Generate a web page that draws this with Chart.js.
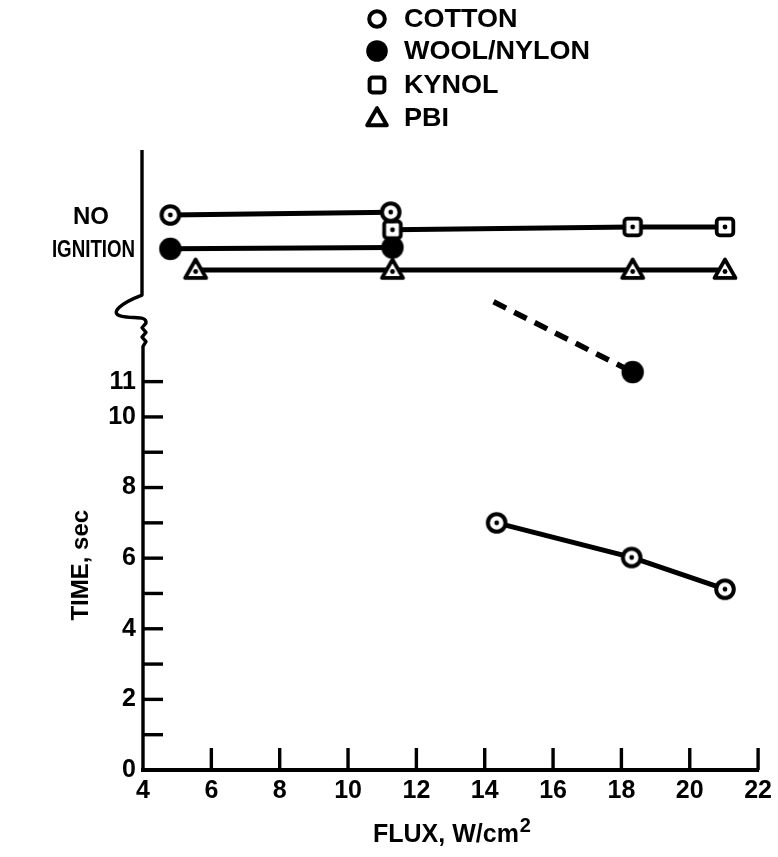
<!DOCTYPE html>
<html><head><meta charset="utf-8">
<script src="https://cdn.jsdelivr.net/npm/chart.js@4/dist/chart.umd.min.js"></script>
<style>html,body{margin:0;padding:0;background:#fff;}#wrap{position:relative;width:778px;height:857px;}</style>
</head><body><div id="wrap"><canvas id="c" width="778" height="857"></canvas></div>
<script>
// ---- data ----
const seriesNames = ['COTTON', 'WOOL/NYLON', 'KYNOL', 'PBI'];
const xTickValues = [4, 6, 8, 10, 12, 14, 16, 18, 20, 22];
const yTickValues = [0, 1, 2, 3, 4, 5, 6, 7, 8, 9, 10, 11];
const yTickLabels = ['0', '', '2', '', '4', '', '6', '', '8', '', '10', '11'];
const noIgnitionLabel = ['NO', 'IGNITION'];
const xTitle = ['FLUX, W/cm', '2'];
const yTitle = 'TIME, sec';
// "no ignition" band (plotted above the axis break)
const cottonNoIgnX = [4.8, 11.25];
const cottonNoIgnY = [15.72, 15.8];
const woolNoIgnX = [4.8, 11.3];
const woolNoIgnY = [14.76, 14.8];
const kynolNoIgnX = [11.3, 18.33, 21.03];
const kynolNoIgnY = [15.3, 15.38, 15.38];
const pbiNoIgnX = [5.54, 11.3, 18.33, 21.03];
const pbiNoIgnY = [14.16, 14.16, 14.16, 14.16];
// ignition times
const cottonIgnX = [14.35, 18.3, 21.03];
const cottonIgnY = [7.0, 6.02, 5.12];
const woolIgnX = [14.26, 18.33];   // first point = start of dashed trend
const woolIgnY = [13.26, 11.27];

// ---- styling helpers ----
const FONT = '"Liberation Sans", Arial, sans-serif';
function mk(size, draw) { const c = document.createElement('canvas'); c.width = c.height = size; const g = c.getContext('2d'); draw(g, size / 2); return c; }
function dot(g, x, y) { g.beginPath(); g.arc(x, y, 2.4, 0, 2 * Math.PI); g.fillStyle = '#000'; g.fill(); }
function openCircle(withDot, r, lw) { return mk(30, (g, m) => { g.beginPath(); g.arc(m, m, r, 0, 2 * Math.PI); g.fillStyle = '#fff'; g.fill(); g.lineWidth = lw; g.strokeStyle = '#000'; g.stroke(); if (withDot) dot(g, m, m); }); }
function filledCircle(r) { return mk(30, (g, m) => { g.beginPath(); g.arc(m, m, r, 0, 2 * Math.PI); g.fillStyle = '#000'; g.fill(); }); }
function square(withDot, h, lw) { return mk(30, (g, m) => { g.beginPath(); g.roundRect(m - h, m - h, 2 * h, 2 * h, 3); g.fillStyle = '#fff'; g.fill(); g.lineWidth = lw; g.strokeStyle = '#000'; g.stroke(); if (withDot) dot(g, m, m); }); }
function triangle(withDot, h, lw) { return mk(30, (g, m) => { g.beginPath(); g.moveTo(m, m - h); g.lineTo(m - h, m + h * 0.75); g.lineTo(m + h, m + h * 0.75); g.closePath(); g.lineJoin = 'round'; g.fillStyle = '#fff'; g.fill(); g.lineWidth = lw; g.strokeStyle = '#000'; g.stroke(); if (withDot) dot(g, m, m + 1.5); }); }

const mCotton = openCircle(true, 8.8, 4), mWool = filledCircle(11.2), mKynol = square(true, 8.3, 3.8), mPbi = triangle(true, 10.5, 3.8);
const legendMarkers = [openCircle(false, 7.8, 4), filledCircle(10.8), square(false, 7.4, 4), triangle(false, 9.8, 4)];

const pts = (xs, ys) => xs.map((x, i) => ({ x, y: ys[i] }));
const base = { showLine: true, borderColor: '#000', borderWidth: 5, pointRadius: 10, pointHoverRadius: 10, borderCapStyle: 'butt', tension: 0 };

const datasets = [
  { ...base, label: 'PBI', data: pts(pbiNoIgnX, pbiNoIgnY), pointStyle: mPbi, order: 4 },
  { ...base, label: 'WOOL/NYLON', data: pts(woolNoIgnX, woolNoIgnY), pointStyle: mWool, order: 3 },
  { ...base, label: 'KYNOL', data: pts(kynolNoIgnX, kynolNoIgnY), pointStyle: mKynol, order: 2 },
  { ...base, label: 'COTTON', data: pts(cottonNoIgnX, cottonNoIgnY), pointStyle: mCotton, order: 1 },
  { ...base, label: 'COTTON ignition', data: pts(cottonIgnX, cottonIgnY), pointStyle: mCotton, order: 1 },
  { ...base, label: 'WOOL/NYLON ignition', data: pts(woolIgnX, woolIgnY), pointStyle: mWool, borderDash: [14, 9], borderWidth: 5.5,
    pointRadius: c => c.dataIndex === 0 ? 0 : 10, order: 1 }
];

const BREAK_LOW = 12.0, BREAK_HIGH = 13.45;

function scaledText(ctx, text, x, y, sx) { ctx.save(); ctx.translate(x, y); ctx.scale(sx, 1); ctx.fillText(text, 0, 0); ctx.restore(); }

const decor = {
  id: 'decor',
  afterDraw(chart) {
    const { ctx, chartArea: a, scales: { x, y } } = chart;
    ctx.save();
    ctx.strokeStyle = '#000'; ctx.fillStyle = '#000'; ctx.lineCap = 'butt';
    // x axis line
    ctx.lineWidth = 4;
    ctx.beginPath(); ctx.moveTo(a.left - 2, a.bottom); ctx.lineTo(a.right + 1, a.bottom); ctx.stroke();
    // y axis with break
    const yl = y.getPixelForValue(BREAK_LOW), yh = y.getPixelForValue(BREAK_HIGH);
    ctx.lineWidth = 3.4; ctx.lineJoin = 'round';
    ctx.beginPath(); ctx.moveTo(a.left, a.bottom + 1); ctx.lineTo(a.left, yl);
    const zz = 5, zh = (yl - (yh + 28)) / zz;
    for (let i = 1; i <= zz; i++) ctx.lineTo(a.left + (i % 2 ? 3 : -1), yl - i * zh);
    const yz = yl - zz * zh;
    ctx.bezierCurveTo(a.left + 4, yz - 8, a.left - 10, yz - 4, a.left - 22, yz - 7);
    ctx.bezierCurveTo(a.left - 34, yz - 10, a.left - 22, yh + 8, a.left - 1, yh);
    ctx.lineTo(a.left - 1, a.top);
    ctx.stroke();
    // y ticks (pointing inward)
    ctx.lineWidth = 3.4;
    yTickValues.forEach(v => { if (v === 0) return; const p = y.getPixelForValue(v); ctx.beginPath(); ctx.moveTo(a.left, p); ctx.lineTo(a.left + 20, p); ctx.stroke(); });
    // x ticks (pointing up)
    xTickValues.forEach(v => { if (v === 4) return; const p = x.getPixelForValue(v); ctx.beginPath(); ctx.moveTo(p, a.bottom); ctx.lineTo(p, a.bottom - 22); ctx.stroke(); });
    // NO IGNITION label
    ctx.font = 'bold 24px ' + FONT; ctx.textAlign = 'center'; ctx.textBaseline = 'middle';
    ctx.fillText(noIgnitionLabel[0], 91, y.getPixelForValue(15.66));
    scaledText(ctx, noIgnitionLabel[1], 93.5, y.getPixelForValue(14.72), 0.78);
    // y title (rotated)
    ctx.save();
    ctx.translate(81, y.getPixelForValue(5.8)); ctx.rotate(-Math.PI / 2);
    ctx.font = 'bold 24px ' + FONT; ctx.textAlign = 'center'; ctx.textBaseline = 'middle';
    ctx.fillText(yTitle, 0, 0);
    ctx.restore();
    // x title with superscript
    ctx.textBaseline = 'alphabetic'; ctx.textAlign = 'left';
    ctx.font = 'bold 25px ' + FONT; const w1 = ctx.measureText(xTitle[0]).width;
    ctx.font = 'bold 20px ' + FONT; const w2 = ctx.measureText(xTitle[1]).width;
    const x0 = 452 - (w1 + w2 + 1) / 2;
    ctx.font = 'bold 25px ' + FONT; ctx.fillText(xTitle[0], x0, 842);
    ctx.font = 'bold 20px ' + FONT; ctx.fillText(xTitle[1], x0 + w1 + 1, 832);
    // legend
    ctx.font = 'bold 25px ' + FONT; ctx.textAlign = 'left'; ctx.textBaseline = 'middle';
    const rows = [19, 51, 85, 118];
    seriesNames.forEach((n, i) => {
      const m = legendMarkers[i];
      ctx.drawImage(m, 377 - m.width / 2, rows[i] - m.height / 2);
      scaledText(ctx, n, 404, rows[i] + 1, 1.08);
    });
    ctx.restore();
  }
};

new Chart(document.getElementById('c'), {
  type: 'scatter',
  data: { datasets },
  options: {
    responsive: false, animation: false, events: [],
    layout: { padding: { top: 150, right: 15, left: 0, bottom: 0 } },
    plugins: { legend: { display: false }, tooltip: { enabled: false } },
    scales: {
      x: {
        type: 'linear', min: 4, max: 22,
        afterBuildTicks: s => { s.ticks = xTickValues.map(v => ({ value: v })); },
        afterFit: s => { s.height = 87; },
        grid: { display: false, drawTicks: false }, border: { display: false },
        ticks: { color: '#000', font: { family: FONT, weight: 'bold', size: 25 }, padding: 6, maxRotation: 0 },
        title: { display: false }
      },
      y: {
        type: 'linear', min: 0, max: 17.56,
        afterBuildTicks: s => { s.ticks = yTickValues.map(v => ({ value: v })); },
        afterFit: s => { s.width = 143; },
        grid: { display: false, drawTicks: false }, border: { display: false },
        ticks: { color: '#000', font: { family: FONT, weight: 'bold', size: 25 }, padding: 7, callback: (v, i) => yTickLabels[i] },
        title: { display: false }
      }
    }
  },
  plugins: [decor]
});
</script></body></html>
